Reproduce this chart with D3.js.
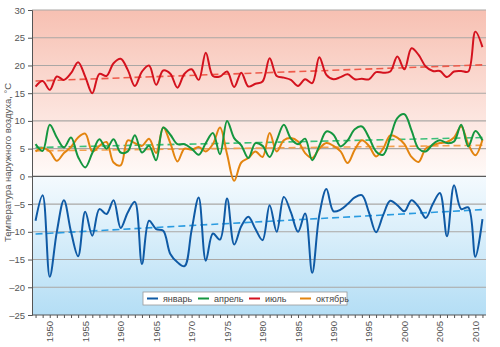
<!DOCTYPE html>
<html>
<head>
<meta charset="utf-8">
<title>Температура наружного воздуха</title>
<script src="https://d3js.org/d3.v7.min.js"></script>
<style>
  body { margin: 0; background: #fff; }
  text { font-family: "Liberation Sans Narrow", "Arial Narrow", "Liberation Sans", sans-serif; }
</style>
</head>
<body>
<script>
// data
var years = d3.range(1948, 2012);
var january = [-8.0, -3.4, -18.1, -10.0, -4.3, -10.0, -14.4, -6.4, -10.7, -5.9,
  -6.8, -4.3, -9.3, -6.5, -4.6, -15.8, -8.0, -9.5, -9.8, -14.0,
  -15.5, -16.2, -9.7, -3.8, -15.2, -10.3, -11.4, -4.0, -12.3, -9.0,
  -7.3, -9.5, -11.5, -5.2, -10.0, -3.7, -6.5, -10.0, -6.7, -17.4,
  -7.0, -2.3, -6.3, -6.0, -5.0, -3.8, -3.4, -6.5, -10.1, -7.0,
  -4.4, -5.2, -6.3, -4.3, -5.5, -7.5, -5.0, -3.0, -10.8, -1.6,
  -5.9, -5.6, -14.5, -7.7];
var april = [5.8, 4.6, 9.3, 7.0, 5.2, 7.0, 3.5, 1.6, 4.2, 6.7,
  5.0, 6.7, 4.3, 4.5, 7.4, 4.3, 5.5, 2.9, 8.8, 7.5,
  5.8, 5.8, 5.0, 3.9, 6.0, 7.8, 4.0, 10.0, 6.9, 5.6,
  3.3, 6.0, 5.5, 3.5, 6.5, 9.3, 6.8, 5.8, 6.8, 2.9,
  5.5, 8.1, 7.5, 5.4, 6.5, 8.5, 9.0, 7.0, 4.5, 3.9,
  7.0, 10.5, 11.2, 8.3, 5.0, 4.5, 5.8, 6.5, 6.0, 6.3,
  9.3, 5.4, 8.2, 6.5];
var july = [16.2, 17.2, 15.6, 18.0, 17.4, 18.6, 20.6, 18.0, 15.0, 18.5,
  18.1, 20.4, 21.2, 19.2, 16.3, 18.9, 20.0, 16.5, 19.1, 18.5,
  16.0, 18.5, 19.3, 17.4, 22.3, 18.1, 18.0, 18.9, 16.1, 18.7,
  16.2, 16.7, 17.1, 21.3, 18.1, 17.8, 17.4, 16.3, 17.5, 16.8,
  21.5, 18.3, 17.5, 17.9, 18.4, 17.5, 17.6, 17.5, 18.8, 18.7,
  18.9, 21.6, 19.3, 23.1, 21.9, 19.8, 19.0, 19.0, 17.9, 18.9,
  19.0, 18.9, 26.1, 23.3];
var october = [4.5, 5.1, 4.5, 2.8, 4.2, 5.3, 7.0, 7.7, 4.5, 5.5,
  6.2, 2.5, 2.0, 6.5, 6.0, 5.5, 6.8, 4.2, 8.8, 6.0,
  2.7, 5.0, 4.8, 5.3, 4.5, 5.8, 8.8, 4.0, -0.8, 2.5,
  3.3, 4.5, 3.5, 7.8, 4.5, 6.5, 6.9, 6.3, 4.2, 3.3,
  5.0, 6.0, 5.5, 4.5, 2.4, 4.8, 6.5, 5.5, 3.6, 5.0,
  7.4, 7.0, 5.8, 3.5, 2.6, 5.0, 5.6, 6.0, 6.2, 7.0,
  9.0, 5.8, 3.8, 6.6];
// trend ends [1948, 2011]
var trendJanuary = [-10.4, -6.0];
var trendApril = [5.2, 7.0];
var trendJuly = [17.2, 20.1];
var trendOctober = [4.6, 5.6];

var seriesNames = ["январь", "апрель", "июль", "октябрь"];
var seriesColors = ["#0f5aa5", "#14963f", "#d4121e", "#e3840f"];
var trendColors = ["#2a9be0", "#3cbf78", "#ee5a4a", "#f3a04e"];
var yTicks = d3.range(-25, 31, 5);
var xLabelYears = d3.range(1950, 2011, 5);
var yTitle = "Температура наружного воздуха, °С";

var w = 500, h = 347;
var pl = 32, pr = 486, pt = 10, pb = 315;

var svg = d3.select("body").append("svg")
  .attr("width", w)
  .attr("height", h);

var x = d3.scaleLinear().domain([1947.5, 2011.5]).range([pl, pr]);
var y = d3.scaleLinear().domain([-25, 30]).range([pb, pt]);

// background: red above zero, blue below
var zeroOff = ((y(0) - pt) / (pb - pt) * 100) + "%";
var grad = svg.append("defs").append("linearGradient")
  .attr("id", "bg").attr("x1", 0).attr("y1", 0).attr("x2", 0).attr("y2", 1);
grad.append("stop").attr("offset", "0%").attr("stop-color", "#f7c0b2");
grad.append("stop").attr("offset", zeroOff).attr("stop-color", "#fffaf8");
grad.append("stop").attr("offset", zeroOff).attr("stop-color", "#f4fafe");
grad.append("stop").attr("offset", "100%").attr("stop-color", "#b4def5");

svg.append("rect")
  .attr("x", pl).attr("y", pt)
  .attr("width", pr - pl).attr("height", pb - pt)
  .attr("fill", "url(#bg)");

// grid
svg.append("g").selectAll("line")
  .data(yTicks.filter(function(d) { return d > -25; }))
  .enter().append("line")
  .attr("x1", pl).attr("x2", pr)
  .attr("y1", function(d) { return y(d); })
  .attr("y2", function(d) { return y(d); })
  .attr("stroke", function(d) { return d == 0 ? "#5a5a5a" : "#aaa7a5"; })
  .attr("stroke-width", function(d) { return d == 0 ? 1.3 : 1.1; });

// y axis
var yAxis = d3.axisLeft(y).tickValues(yTicks).tickSize(4).tickPadding(3);
var gy = svg.append("g")
  .attr("transform", "translate(" + pl + ",0)")
  .call(yAxis);
gy.select(".domain").attr("stroke", "#555");
gy.selectAll(".tick line").attr("stroke", "#555");
gy.selectAll(".tick text")
  .attr("fill", "#555")
  .attr("font-size", "9.5px")
  .text(function(d) { return d < 0 ? "\u2013" + Math.abs(d) : d; });

// x axis: a tick every year, a label every 5
var xAxis = d3.axisBottom(x).tickValues(years).tickSize(3).tickFormat("");
var gx = svg.append("g")
  .attr("transform", "translate(0," + pb + ")")
  .call(xAxis);
gx.select(".domain").attr("stroke", "#555").attr("d", "M" + pl + ",0H" + pr);
gx.selectAll(".tick line").attr("stroke", "#555");

svg.append("g").selectAll("text")
  .data(xLabelYears)
  .enter().append("text")
  .attr("transform", function(d) { return "translate(" + (x(d) + 3.5) + "," + (pb + 6) + ") rotate(-90)"; })
  .attr("text-anchor", "end")
  .attr("fill", "#555")
  .attr("font-size", "9.5px")
  .text(function(d) { return d; });

// y title
svg.append("text")
  .attr("transform", "translate(11," + ((pt + pb) / 2) + ") rotate(-90)")
  .attr("text-anchor", "middle")
  .attr("fill", "#555")
  .attr("font-size", "9.5px")
  .text(yTitle);

// trend lines
var trends = [trendJanuary, trendApril, trendJuly, trendOctober];
svg.append("g").selectAll("line")
  .data(trends)
  .enter().append("line")
  .attr("x1", x(1948)).attr("x2", x(2011))
  .attr("y1", function(d) { return y(d[0]); })
  .attr("y2", function(d) { return y(d[1]); })
  .attr("stroke", function(d, i) { return trendColors[i]; })
  .attr("stroke-width", 1.6)
  .attr("stroke-dasharray", "7,4");

// series
var allSeries = [january, april, july, october];
var line = d3.line()
  .x(function(d, i) { return x(years[i]); })
  .y(function(d) { return y(d); })
  .curve(d3.curveCatmullRom.alpha(0.5));

// draw order: october, april, july, january
[3, 1, 2, 0].forEach(function(k) {
  svg.append("path")
    .datum(allSeries[k])
    .attr("d", line)
    .attr("fill", "none")
    .attr("stroke", seriesColors[k])
    .attr("stroke-width", 2);
});

// legend
var lg = svg.append("g").attr("transform", "translate(143,292)");
lg.append("rect")
  .attr("width", 204).attr("height", 13)
  .attr("fill", "#fff")
  .attr("stroke", "#9a9a9a")
  .attr("stroke-width", 0.8);
var item = lg.selectAll("g.item")
  .data(seriesNames)
  .enter().append("g")
  .attr("class", "item")
  .attr("transform", function(d, i) { return "translate(" + (4 + i * 51) + ",0)"; });
item.append("line")
  .attr("x1", 0).attr("x2", 11)
  .attr("y1", 6.5).attr("y2", 6.5)
  .attr("stroke", function(d, i) { return seriesColors[i]; })
  .attr("stroke-width", 2);
item.append("text")
  .attr("x", 16).attr("y", 10)
  .attr("fill", "#444")
  .attr("font-size", "9px")
  .text(function(d) { return d; });
</script>
</body>
</html>
